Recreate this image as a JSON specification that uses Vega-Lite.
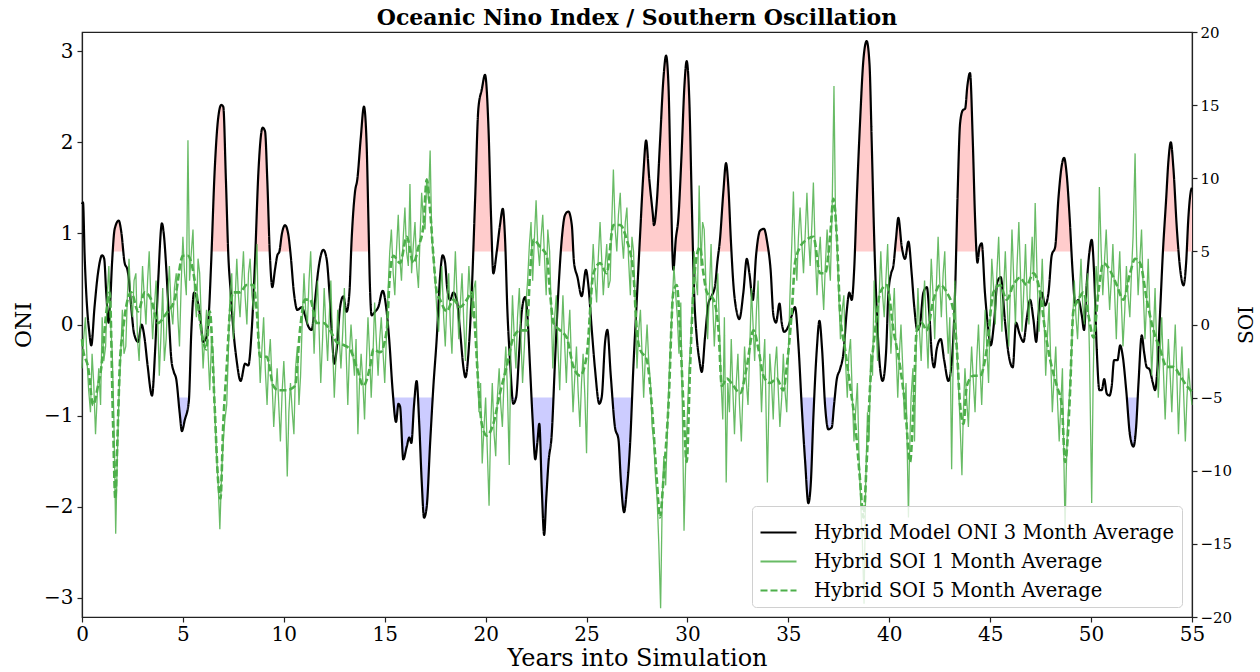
{
"$schema": "https://vega.github.io/schema/vega-lite/v6.json",
"width": 1110, "height": 585,
"autosize": {"type": "none"},
"padding": {"left": 82, "top": 32, "right": 68, "bottom": 55},
"background": "white",
"title": {"text": "Oceanic Nino Index / Southern Oscillation", "font": "DejaVu Serif", "fontSize": 22, "fontWeight": "bold", "color": "black", "offset": -5, "anchor": "middle"},
"config": {
 "view": {"stroke": "#222", "strokeWidth": 1.2},
 "axis": {"grid": false, "labelFont": "DejaVu Serif", "titleFont": "DejaVu Serif", "titleFontWeight": "normal", "labelColor": "black", "titleColor": "black", "tickColor": "#222", "domainColor": "#222", "tickSize": 5, "domainWidth": 1.2, "tickWidth": 1.2, "labelFlush": false},
 "legend": {"orient": "bottom-right", "offset": 10, "labelFont": "DejaVu Serif", "labelFontSize": 19.5, "labelColor": "black", "symbolType": "stroke", "symbolSize": 1296, "symbolStrokeWidth": 2.2, "labelOffset": 16, "padding": 7, "rowPadding": -9, "strokeColor": "#d0d0d0", "fillColor": "rgba(255,255,255,0.8)", "cornerRadius": 4, "labelLimit": 700}
},
"datasets": {
 "oni": [
{"t":0,"oni":1.32},{"t":0.05,"oni":1.34},{"t":0.13,"oni":0.76},{"t":0.28,"oni":0.1},{"t":0.35,"oni":-0.06},{"t":0.46,"oni":-0.23},{"t":0.62,"oni":0.19},{"t":0.79,"oni":0.56},{"t":1.0,"oni":0.76},{"t":1.1,"oni":0.72},{"t":1.2,"oni":0.35},{"t":1.32,"oni":0.02},{"t":1.38,"oni":0.17},{"t":1.49,"oni":0.68},{"t":1.62,"oni":1.05},{"t":1.82,"oni":1.14},{"t":1.95,"oni":1.01},{"t":2.11,"oni":0.68},{"t":2.25,"oni":0.6},{"t":2.31,"oni":0.52},{"t":2.44,"oni":0.19},{"t":2.58,"oni":-0.1},{"t":2.78,"oni":-0.19},{"t":2.95,"oni":0.0},{"t":3.1,"oni":-0.15},{"t":3.25,"oni":-0.45},{"t":3.47,"oni":-0.78},{"t":3.62,"oni":-0.3},{"t":3.78,"oni":0.5},{"t":3.96,"oni":1.11},{"t":4.05,"oni":1.0},{"t":4.18,"oni":0.6},{"t":4.3,"oni":0.1},{"t":4.43,"oni":-0.39},{"t":4.55,"oni":-0.52},{"t":4.67,"oni":-0.6},{"t":4.84,"oni":-0.97},{"t":4.95,"oni":-1.17},{"t":5.09,"oni":-1.05},{"t":5.29,"oni":-0.85},{"t":5.42,"oni":-0.06},{"t":5.55,"oni":0.35},{"t":5.71,"oni":0.27},{"t":5.85,"oni":0.1},{"t":6.0,"oni":-0.19},{"t":6.16,"oni":-0.14},{"t":6.28,"oni":0.1},{"t":6.4,"oni":0.68},{"t":6.57,"oni":1.67},{"t":6.74,"oni":2.25},{"t":6.9,"oni":2.41},{"t":7.0,"oni":2.39},{"t":7.13,"oni":1.59},{"t":7.25,"oni":0.76},{"t":7.37,"oni":0.35},{"t":7.5,"oni":-0.06},{"t":7.66,"oni":-0.39},{"t":7.86,"oni":-0.62},{"t":8.08,"oni":-0.43},{"t":8.24,"oni":-0.45},{"t":8.41,"oni":-0.06},{"t":8.57,"oni":0.68},{"t":8.74,"oni":1.67},{"t":8.95,"oni":2.16},{"t":9.07,"oni":2.12},{"t":9.18,"oni":1.59},{"t":9.31,"oni":0.76},{"t":9.43,"oni":0.41},{"t":9.56,"oni":0.6},{"t":9.68,"oni":0.76},{"t":9.78,"oni":0.8},{"t":9.9,"oni":0.99},{"t":10.06,"oni":1.09},{"t":10.22,"oni":0.99},{"t":10.34,"oni":0.76},{"t":10.5,"oni":0.35},{"t":10.67,"oni":0.16},{"t":10.89,"oni":0.19},{"t":11.05,"oni":0.1},{"t":11.21,"oni":-0.02},{"t":11.38,"oni":-0.06},{"t":11.55,"oni":0.27},{"t":11.71,"oni":0.6},{"t":11.96,"oni":0.82},{"t":12.12,"oni":0.72},{"t":12.26,"oni":0.35},{"t":12.37,"oni":-0.06},{"t":12.5,"oni":-0.43},{"t":12.62,"oni":-0.27},{"t":12.79,"oni":0.19},{"t":12.95,"oni":0.31},{"t":13.11,"oni":0.14},{"t":13.25,"oni":0.35},{"t":13.36,"oni":0.93},{"t":13.53,"oni":1.46},{"t":13.64,"oni":1.59},{"t":13.81,"oni":2.04},{"t":13.97,"oni":2.39},{"t":14.1,"oni":2.0},{"t":14.19,"oni":1.17},{"t":14.27,"oni":0.4},{"t":14.35,"oni":0.1},{"t":14.52,"oni":0.14},{"t":14.68,"oni":0.19},{"t":14.9,"oni":0.37},{"t":15.07,"oni":0.19},{"t":15.23,"oni":-0.19},{"t":15.39,"oni":-0.72},{"t":15.56,"oni":-1.07},{"t":15.68,"oni":-0.87},{"t":15.76,"oni":-0.9},{"t":15.92,"oni":-1.48},{"t":16.09,"oni":-1.34},{"t":16.22,"oni":-1.24},{"t":16.32,"oni":-1.3},{"t":16.45,"oni":-0.89},{"t":16.58,"oni":-0.62},{"t":16.71,"oni":-1.09},{"t":16.83,"oni":-1.71},{"t":16.95,"oni":-2.12},{"t":17.08,"oni":-2.0},{"t":17.25,"oni":-1.3},{"t":17.41,"oni":-0.68},{"t":17.58,"oni":-0.14},{"t":17.74,"oni":0.52},{"t":17.87,"oni":0.76},{"t":17.99,"oni":0.68},{"t":18.1,"oni":0.39},{"t":18.24,"oni":0.27},{"t":18.4,"oni":0.35},{"t":18.57,"oni":0.27},{"t":18.73,"oni":-0.06},{"t":18.9,"oni":-0.47},{"t":19.0,"oni":-0.58},{"t":19.15,"oni":-0.31},{"t":19.31,"oni":0.35},{"t":19.48,"oni":1.38},{"t":19.64,"oni":2.37},{"t":19.81,"oni":2.58},{"t":19.97,"oni":2.74},{"t":20.14,"oni":2.16},{"t":20.27,"oni":1.17},{"t":20.38,"oni":0.56},{"t":20.55,"oni":0.8},{"t":20.71,"oni":1.09},{"t":20.85,"oni":1.27},{"t":20.96,"oni":0.95},{"t":21.08,"oni":0.14},{"t":21.21,"oni":-0.4},{"t":21.37,"oni":-0.87},{"t":21.51,"oni":-0.8},{"t":21.67,"oni":-0.27},{"t":21.79,"oni":0.14},{"t":21.95,"oni":0.3},{"t":22.07,"oni":0.1},{"t":22.2,"oni":-0.47},{"t":22.33,"oni":-1.05},{"t":22.46,"oni":-1.48},{"t":22.56,"oni":-1.3},{"t":22.66,"oni":-1.09},{"t":22.78,"oni":-1.79},{"t":22.9,"oni":-2.31},{"t":23.0,"oni":-1.92},{"t":23.12,"oni":-1.5},{"t":23.27,"oni":-1.22},{"t":23.44,"oni":-0.39},{"t":23.6,"oni":0.35},{"t":23.77,"oni":0.93},{"t":23.93,"oni":1.2},{"t":24.1,"oni":1.24},{"t":24.27,"oni":1.09},{"t":24.38,"oni":0.68},{"t":24.55,"oni":0.52},{"t":24.76,"oni":0.31},{"t":24.97,"oni":0.6},{"t":25.09,"oni":0.43},{"t":25.26,"oni":-0.06},{"t":25.42,"oni":-0.49},{"t":25.63,"oni":-0.87},{"t":25.75,"oni":-0.8},{"t":25.92,"oni":-0.19},{"t":26.03,"oni":-0.06},{"t":26.2,"oni":-0.56},{"t":26.41,"oni":-1.13},{"t":26.58,"oni":-1.26},{"t":26.7,"oni":-1.71},{"t":26.86,"oni":-2.06},{"t":26.99,"oni":-1.83},{"t":27.16,"oni":-1.3},{"t":27.32,"oni":-0.47},{"t":27.49,"oni":0.27},{"t":27.65,"oni":0.97},{"t":27.82,"oni":1.67},{"t":27.95,"oni":2.02},{"t":28.11,"oni":1.59},{"t":28.28,"oni":1.22},{"t":28.34,"oni":1.09},{"t":28.48,"oni":1.34},{"t":28.64,"oni":2.0},{"t":28.81,"oni":2.7},{"t":28.94,"oni":2.95},{"t":29.06,"oni":2.62},{"t":29.17,"oni":1.59},{"t":29.3,"oni":0.6},{"t":29.42,"oni":0.93},{"t":29.55,"oni":1.17},{"t":29.71,"oni":1.88},{"t":29.85,"oni":2.62},{"t":29.96,"oni":2.89},{"t":30.1,"oni":2.41},{"t":30.21,"oni":1.38},{"t":30.33,"oni":0.35},{"t":30.46,"oni":-0.14},{"t":30.59,"oni":-0.39},{"t":30.71,"oni":-0.52},{"t":30.87,"oni":-0.14},{"t":31.04,"oni":0.23},{"t":31.2,"oni":0.31},{"t":31.37,"oni":0.43},{"t":31.48,"oni":0.68},{"t":31.61,"oni":0.93},{"t":31.78,"oni":1.46},{"t":31.91,"oni":1.77},{"t":32.03,"oni":1.5},{"t":32.15,"oni":0.93},{"t":32.28,"oni":0.43},{"t":32.44,"oni":0.14},{"t":32.57,"oni":0.06},{"t":32.77,"oni":0.35},{"t":32.94,"oni":0.72},{"t":33.07,"oni":0.56},{"t":33.24,"oni":0.27},{"t":33.4,"oni":0.76},{"t":33.6,"oni":1.03},{"t":33.79,"oni":1.05},{"t":33.96,"oni":0.89},{"t":34.12,"oni":0.6},{"t":34.26,"oni":0.1},{"t":34.39,"oni":0.02},{"t":34.56,"oni":0.23},{"t":34.67,"oni":0.02},{"t":34.79,"oni":-0.08},{"t":35.0,"oni":-0.02},{"t":35.17,"oni":0.1},{"t":35.33,"oni":0.19},{"t":35.5,"oni":-0.23},{"t":35.66,"oni":-0.89},{"t":35.83,"oni":-1.5},{"t":35.99,"oni":-1.96},{"t":36.11,"oni":-1.75},{"t":36.24,"oni":-1.01},{"t":36.41,"oni":-0.27},{"t":36.54,"oni":0.04},{"t":36.67,"oni":-0.27},{"t":36.82,"oni":-0.89},{"t":36.98,"oni":-1.15},{"t":37.15,"oni":-1.13},{"t":37.26,"oni":-0.89},{"t":37.4,"oni":-0.6},{"t":37.56,"oni":-0.49},{"t":37.73,"oni":-0.31},{"t":37.89,"oni":0.14},{"t":38.02,"oni":0.35},{"t":38.14,"oni":0.27},{"t":38.26,"oni":0.6},{"t":38.39,"oni":1.38},{"t":38.55,"oni":2.21},{"t":38.72,"oni":2.91},{"t":38.88,"oni":3.11},{"t":39.02,"oni":2.86},{"t":39.13,"oni":2.0},{"t":39.25,"oni":0.97},{"t":39.38,"oni":0.14},{"t":39.51,"oni":-0.39},{"t":39.67,"oni":-0.62},{"t":39.84,"oni":-0.31},{"t":39.96,"oni":0.35},{"t":40.09,"oni":0.56},{"t":40.2,"oni":0.64},{"t":40.33,"oni":0.93},{"t":40.45,"oni":1.17},{"t":40.62,"oni":0.85},{"t":40.78,"oni":0.72},{"t":40.95,"oni":0.91},{"t":41.11,"oni":0.56},{"t":41.24,"oni":0.19},{"t":41.39,"oni":-0.06},{"t":41.52,"oni":0.0},{"t":41.69,"oni":0.35},{"t":41.86,"oni":0.41},{"t":41.99,"oni":0.1},{"t":42.1,"oni":-0.31},{"t":42.22,"oni":-0.47},{"t":42.35,"oni":-0.27},{"t":42.55,"oni":-0.16},{"t":42.72,"oni":-0.39},{"t":42.93,"oni":-0.62},{"t":43.09,"oni":-0.43},{"t":43.26,"oni":0.35},{"t":43.38,"oni":1.38},{"t":43.51,"oni":2.21},{"t":43.64,"oni":2.35},{"t":43.76,"oni":2.37},{"t":43.87,"oni":2.62},{"t":44.0,"oni":2.76},{"t":44.14,"oni":2.0},{"t":44.25,"oni":1.17},{"t":44.37,"oni":0.68},{"t":44.47,"oni":0.85},{"t":44.58,"oni":0.89},{"t":44.74,"oni":0.35},{"t":44.91,"oni":-0.06},{"t":45.03,"oni":-0.23},{"t":45.19,"oni":0.02},{"t":45.36,"oni":0.47},{"t":45.52,"oni":0.52},{"t":45.74,"oni":0.02},{"t":45.9,"oni":-0.31},{"t":46.12,"oni":-0.47},{"t":46.28,"oni":0.02},{"t":46.45,"oni":-0.1},{"t":46.65,"oni":-0.19},{"t":46.81,"oni":0.06},{"t":46.98,"oni":0.27},{"t":47.14,"oni":0.06},{"t":47.28,"oni":-0.19},{"t":47.39,"oni":0.1},{"t":47.56,"oni":0.35},{"t":47.72,"oni":0.21},{"t":47.89,"oni":0.35},{"t":48.05,"oni":0.76},{"t":48.22,"oni":0.85},{"t":48.38,"oni":1.38},{"t":48.55,"oni":1.75},{"t":48.66,"oni":1.83},{"t":48.79,"oni":1.65},{"t":48.93,"oni":1.2},{"t":49.09,"oni":0.56},{"t":49.21,"oni":0.23},{"t":49.37,"oni":0.27},{"t":49.54,"oni":0.1},{"t":49.65,"oni":-0.06},{"t":49.78,"oni":0.43},{"t":49.92,"oni":0.8},{"t":50.03,"oni":0.93},{"t":50.15,"oni":0.56},{"t":50.28,"oni":-0.27},{"t":50.41,"oni":-0.72},{"t":50.53,"oni":-0.72},{"t":50.65,"oni":-0.6},{"t":50.78,"oni":-0.76},{"t":50.91,"oni":-0.78},{"t":51.02,"oni":-0.68},{"t":51.14,"oni":-0.39},{"t":51.31,"oni":-0.39},{"t":51.44,"oni":-0.23},{"t":51.57,"oni":-0.35},{"t":51.74,"oni":-0.72},{"t":51.93,"oni":-1.22},{"t":52.1,"oni":-1.34},{"t":52.23,"oni":-1.13},{"t":52.35,"oni":-0.64},{"t":52.51,"oni":-0.12},{"t":52.63,"oni":-0.31},{"t":52.76,"oni":-0.47},{"t":52.89,"oni":-0.49},{"t":53.06,"oni":-0.64},{"t":53.17,"oni":-0.72},{"t":53.29,"oni":-0.47},{"t":53.42,"oni":0.14},{"t":53.55,"oni":0.76},{"t":53.72,"oni":1.38},{"t":53.83,"oni":1.79},{"t":53.95,"oni":2.0},{"t":54.08,"oni":1.71},{"t":54.25,"oni":1.05},{"t":54.44,"oni":0.56},{"t":54.58,"oni":0.43},{"t":54.71,"oni":0.68},{"t":54.82,"oni":1.17},{"t":54.94,"oni":1.46},{"t":55.0,"oni":1.5}
 ],
 "warm": [
{"t":1.53,"oni":0.8,"ep":1},{"t":1.62,"oni":1.05,"ep":1},{"t":1.82,"oni":1.14,"ep":1},{"t":1.95,"oni":1.01,"ep":1},{"t":2.05,"oni":0.8,"ep":1},
{"t":6.42,"oni":0.8,"ep":2},{"t":6.57,"oni":1.67,"ep":2},{"t":6.74,"oni":2.25,"ep":2},{"t":6.9,"oni":2.41,"ep":2},{"t":7.0,"oni":2.39,"ep":2},{"t":7.13,"oni":1.59,"ep":2},{"t":7.24,"oni":0.8,"ep":2},
{"t":8.59,"oni":0.8,"ep":3},{"t":8.74,"oni":1.67,"ep":3},{"t":8.95,"oni":2.16,"ep":3},{"t":9.07,"oni":2.12,"ep":3},{"t":9.18,"oni":1.59,"ep":3},{"t":9.3,"oni":0.8,"ep":3},
{"t":9.78,"oni":0.8,"ep":4},{"t":9.9,"oni":0.99,"ep":4},{"t":10.06,"oni":1.09,"ep":4},{"t":10.22,"oni":0.99,"ep":4},{"t":10.32,"oni":0.8,"ep":4},
{"t":13.34,"oni":0.8,"ep":6},{"t":13.36,"oni":0.93,"ep":6},{"t":13.53,"oni":1.46,"ep":6},{"t":13.64,"oni":1.59,"ep":6},{"t":13.81,"oni":2.04,"ep":6},{"t":13.97,"oni":2.39,"ep":6},{"t":14.1,"oni":2.0,"ep":6},{"t":14.19,"oni":1.17,"ep":6},{"t":14.23,"oni":0.8,"ep":6},
{"t":19.38,"oni":0.8,"ep":7},{"t":19.48,"oni":1.38,"ep":7},{"t":19.64,"oni":2.37,"ep":7},{"t":19.81,"oni":2.58,"ep":7},{"t":19.97,"oni":2.74,"ep":7},{"t":20.14,"oni":2.16,"ep":7},{"t":20.27,"oni":1.17,"ep":7},{"t":20.34,"oni":0.8,"ep":7},
{"t":20.55,"oni":0.8,"ep":8},{"t":20.71,"oni":1.09,"ep":8},{"t":20.85,"oni":1.27,"ep":8},{"t":20.96,"oni":0.95,"ep":8},{"t":20.98,"oni":0.8,"ep":8},
{"t":23.73,"oni":0.8,"ep":9},{"t":23.77,"oni":0.93,"ep":9},{"t":23.93,"oni":1.2,"ep":9},{"t":24.1,"oni":1.24,"ep":9},{"t":24.27,"oni":1.09,"ep":9},{"t":24.35,"oni":0.8,"ep":9},
{"t":27.61,"oni":0.8,"ep":10},{"t":27.65,"oni":0.97,"ep":10},{"t":27.82,"oni":1.67,"ep":10},{"t":27.95,"oni":2.02,"ep":10},{"t":28.11,"oni":1.59,"ep":10},{"t":28.28,"oni":1.22,"ep":10},{"t":28.34,"oni":1.09,"ep":10},{"t":28.48,"oni":1.34,"ep":10},{"t":28.64,"oni":2.0,"ep":10},{"t":28.81,"oni":2.7,"ep":10},{"t":28.94,"oni":2.95,"ep":10},{"t":29.06,"oni":2.62,"ep":10},{"t":29.17,"oni":1.59,"ep":10},{"t":29.27,"oni":0.8,"ep":10},
{"t":29.37,"oni":0.8,"ep":11},{"t":29.42,"oni":0.93,"ep":11},{"t":29.55,"oni":1.17,"ep":11},{"t":29.71,"oni":1.88,"ep":11},{"t":29.85,"oni":2.62,"ep":11},{"t":29.96,"oni":2.89,"ep":11},{"t":30.1,"oni":2.41,"ep":11},{"t":30.21,"oni":1.38,"ep":11},{"t":30.28,"oni":0.8,"ep":11},
{"t":31.54,"oni":0.8,"ep":12},{"t":31.61,"oni":0.93,"ep":12},{"t":31.78,"oni":1.46,"ep":12},{"t":31.91,"oni":1.77,"ep":12},{"t":32.03,"oni":1.5,"ep":12},{"t":32.15,"oni":0.93,"ep":12},{"t":32.18,"oni":0.8,"ep":12},
{"t":33.43,"oni":0.8,"ep":13},{"t":33.6,"oni":1.03,"ep":13},{"t":33.79,"oni":1.05,"ep":13},{"t":33.96,"oni":0.89,"ep":13},{"t":34.01,"oni":0.8,"ep":13},
{"t":38.29,"oni":0.8,"ep":14},{"t":38.39,"oni":1.38,"ep":14},{"t":38.55,"oni":2.21,"ep":14},{"t":38.72,"oni":2.91,"ep":14},{"t":38.88,"oni":3.11,"ep":14},{"t":39.02,"oni":2.86,"ep":14},{"t":39.13,"oni":2.0,"ep":14},{"t":39.25,"oni":0.97,"ep":14},{"t":39.28,"oni":0.8,"ep":14},
{"t":40.27,"oni":0.8,"ep":15},{"t":40.33,"oni":0.93,"ep":15},{"t":40.45,"oni":1.17,"ep":15},{"t":40.62,"oni":0.85,"ep":15},{"t":40.68,"oni":0.8,"ep":15},
{"t":40.85,"oni":0.8,"ep":16},{"t":40.95,"oni":0.91,"ep":16},{"t":41.01,"oni":0.8,"ep":16},
{"t":43.31,"oni":0.8,"ep":17},{"t":43.38,"oni":1.38,"ep":17},{"t":43.51,"oni":2.21,"ep":17},{"t":43.64,"oni":2.35,"ep":17},{"t":43.76,"oni":2.37,"ep":17},{"t":43.87,"oni":2.62,"ep":17},{"t":44.0,"oni":2.76,"ep":17},{"t":44.14,"oni":2.0,"ep":17},{"t":44.25,"oni":1.17,"ep":17},{"t":44.34,"oni":0.8,"ep":17},
{"t":44.44,"oni":0.8,"ep":18},{"t":44.47,"oni":0.85,"ep":18},{"t":44.58,"oni":0.89,"ep":18},{"t":44.61,"oni":0.8,"ep":18},
{"t":48.13,"oni":0.8,"ep":19},{"t":48.22,"oni":0.85,"ep":19},{"t":48.38,"oni":1.38,"ep":19},{"t":48.55,"oni":1.75,"ep":19},{"t":48.66,"oni":1.83,"ep":19},{"t":48.79,"oni":1.65,"ep":19},{"t":48.93,"oni":1.2,"ep":19},{"t":49.03,"oni":0.8,"ep":19},
{"t":49.92,"oni":0.8,"ep":20},{"t":50.03,"oni":0.93,"ep":20},{"t":50.07,"oni":0.8,"ep":20},
{"t":53.56,"oni":0.8,"ep":21},{"t":53.72,"oni":1.38,"ep":21},{"t":53.83,"oni":1.79,"ep":21},{"t":53.95,"oni":2.0,"ep":21},{"t":54.08,"oni":1.71,"ep":21},{"t":54.25,"oni":1.05,"ep":21},{"t":54.35,"oni":0.8,"ep":21},
{"t":54.74,"oni":0.8,"ep":22},{"t":54.82,"oni":1.17,"ep":22},{"t":54.94,"oni":1.46,"ep":22},{"t":55.0,"oni":1.5,"ep":22}
 ],
 "cold": [
{"t":4.76,"oni":-0.8,"ep":1},{"t":4.84,"oni":-0.97,"ep":1},{"t":4.95,"oni":-1.17,"ep":1},{"t":5.09,"oni":-1.05,"ep":1},{"t":5.29,"oni":-0.85,"ep":1},{"t":5.3,"oni":-0.8,"ep":1},
{"t":15.43,"oni":-0.8,"ep":2},{"t":15.56,"oni":-1.07,"ep":2},{"t":15.68,"oni":-0.87,"ep":2},{"t":15.76,"oni":-0.9,"ep":2},{"t":15.92,"oni":-1.48,"ep":2},{"t":16.09,"oni":-1.34,"ep":2},{"t":16.22,"oni":-1.24,"ep":2},{"t":16.32,"oni":-1.3,"ep":2},{"t":16.45,"oni":-0.89,"ep":2},{"t":16.49,"oni":-0.8,"ep":2},
{"t":16.63,"oni":-0.8,"ep":3},{"t":16.71,"oni":-1.09,"ep":3},{"t":16.83,"oni":-1.71,"ep":3},{"t":16.95,"oni":-2.12,"ep":3},{"t":17.08,"oni":-2.0,"ep":3},{"t":17.25,"oni":-1.3,"ep":3},{"t":17.38,"oni":-0.8,"ep":3},
{"t":21.35,"oni":-0.8,"ep":4},{"t":21.37,"oni":-0.87,"ep":4},{"t":21.51,"oni":-0.8,"ep":4},
{"t":22.27,"oni":-0.8,"ep":5},{"t":22.33,"oni":-1.05,"ep":5},{"t":22.46,"oni":-1.48,"ep":5},{"t":22.56,"oni":-1.3,"ep":5},{"t":22.66,"oni":-1.09,"ep":5},{"t":22.78,"oni":-1.79,"ep":5},{"t":22.9,"oni":-2.31,"ep":5},{"t":23.0,"oni":-1.92,"ep":5},{"t":23.12,"oni":-1.5,"ep":5},{"t":23.27,"oni":-1.22,"ep":5},{"t":23.36,"oni":-0.8,"ep":5},
{"t":25.59,"oni":-0.8,"ep":6},{"t":25.63,"oni":-0.87,"ep":6},{"t":25.75,"oni":-0.8,"ep":6},
{"t":26.29,"oni":-0.8,"ep":7},{"t":26.41,"oni":-1.13,"ep":7},{"t":26.58,"oni":-1.26,"ep":7},{"t":26.7,"oni":-1.71,"ep":7},{"t":26.86,"oni":-2.06,"ep":7},{"t":26.99,"oni":-1.83,"ep":7},{"t":27.16,"oni":-1.3,"ep":7},{"t":27.26,"oni":-0.8,"ep":7},
{"t":35.64,"oni":-0.8,"ep":8},{"t":35.66,"oni":-0.89,"ep":8},{"t":35.83,"oni":-1.5,"ep":8},{"t":35.99,"oni":-1.96,"ep":8},{"t":36.11,"oni":-1.75,"ep":8},{"t":36.24,"oni":-1.01,"ep":8},{"t":36.29,"oni":-0.8,"ep":8},
{"t":36.8,"oni":-0.8,"ep":9},{"t":36.82,"oni":-0.89,"ep":9},{"t":36.98,"oni":-1.15,"ep":9},{"t":37.15,"oni":-1.13,"ep":9},{"t":37.26,"oni":-0.89,"ep":9},{"t":37.3,"oni":-0.8,"ep":9},
{"t":51.77,"oni":-0.8,"ep":10},{"t":51.93,"oni":-1.22,"ep":10},{"t":52.1,"oni":-1.34,"ep":10},{"t":52.23,"oni":-1.13,"ep":10},{"t":52.31,"oni":-0.8,"ep":10}
 ],
 "soi5": [
{"t":0,"soi":-1.0},{"t":0.05,"soi":-1.7},{"t":0.3,"soi":-2.9},{"t":0.55,"soi":-5.5},{"t":0.79,"soi":-4.2},{"t":0.96,"soi":-2.9},{"t":1.21,"soi":0.9},{"t":1.37,"soi":2.2},{"t":1.54,"soi":-6.8},{"t":1.65,"soi":-11.9},{"t":1.75,"soi":-8.1},{"t":1.87,"soi":-2.9},{"t":2.03,"soi":-0.4},{"t":2.44,"soi":2.2},{"t":2.78,"soi":0.9},{"t":3.11,"soi":2.2},{"t":3.43,"soi":1.7},{"t":3.77,"soi":0.1},{"t":4.1,"soi":0.6},{"t":4.26,"soi":0.9},{"t":4.59,"soi":1.7},{"t":5.0,"soi":4.7},{"t":5.25,"soi":4.7},{"t":5.42,"soi":4.2},{"t":5.67,"soi":2.2},{"t":5.91,"soi":-0.4},{"t":6.16,"soi":-1.7},{"t":6.33,"soi":0.9},{"t":6.57,"soi":-5.5},{"t":6.74,"soi":-10.6},{"t":6.86,"soi":-11.9},{"t":7.0,"soi":-6.8},{"t":7.17,"soi":-2.9},{"t":7.33,"soi":0.9},{"t":7.5,"soi":2.2},{"t":7.83,"soi":2.2},{"t":8.16,"soi":2.7},{"t":8.49,"soi":2.7},{"t":8.66,"soi":0.9},{"t":8.82,"soi":-2.2},{"t":9.15,"soi":-2.2},{"t":9.48,"soi":-4.2},{"t":9.73,"soi":-4.5},{"t":10.14,"soi":-4.5},{"t":10.56,"soi":-4.2},{"t":10.8,"soi":-0.4},{"t":11.05,"soi":1.7},{"t":11.3,"soi":1.7},{"t":11.63,"soi":0.1},{"t":11.96,"soi":0.1},{"t":12.29,"soi":-0.4},{"t":12.62,"soi":-1.2},{"t":12.95,"soi":-1.4},{"t":13.28,"soi":-1.7},{"t":13.61,"soi":-2.9},{"t":13.94,"soi":-4.2},{"t":14.27,"soi":-2.9},{"t":14.44,"soi":-1.7},{"t":14.77,"soi":-1.9},{"t":15.1,"soi":-0.4},{"t":15.26,"soi":3.5},{"t":15.43,"soi":4.7},{"t":15.76,"soi":4.2},{"t":16.09,"soi":6.0},{"t":16.42,"soi":4.2},{"t":16.67,"soi":5.3},{"t":16.92,"soi":6.8},{"t":17.08,"soi":9.9},{"t":17.25,"soi":7.8},{"t":17.41,"soi":4.7},{"t":17.58,"soi":2.2},{"t":17.74,"soi":1.7},{"t":18.07,"soi":0.9},{"t":18.4,"soi":1.7},{"t":18.73,"soi":1.2},{"t":19.07,"soi":1.7},{"t":19.31,"soi":2.2},{"t":19.48,"soi":-0.4},{"t":19.64,"soi":-4.2},{"t":19.81,"soi":-6.8},{"t":20.05,"soi":-7.6},{"t":20.38,"soi":-6.8},{"t":20.71,"soi":-4.7},{"t":21.04,"soi":-2.9},{"t":21.37,"soi":-0.9},{"t":21.7,"soi":-0.4},{"t":22.04,"soi":-0.4},{"t":22.2,"soi":3.5},{"t":22.37,"soi":5.8},{"t":22.7,"soi":5.3},{"t":23.03,"soi":4.7},{"t":23.19,"soi":2.2},{"t":23.36,"soi":0.1},{"t":23.69,"soi":-0.4},{"t":24.02,"soi":-0.9},{"t":24.35,"soi":-2.9},{"t":24.68,"soi":-3.5},{"t":25.0,"soi":-2.2},{"t":25.34,"soi":3.5},{"t":25.67,"soi":4.2},{"t":26.0,"soi":3.5},{"t":26.33,"soi":6.8},{"t":26.66,"soi":6.8},{"t":26.99,"soi":5.8},{"t":27.32,"soi":3.5},{"t":27.49,"soi":-0.4},{"t":27.65,"soi":-1.7},{"t":27.98,"soi":-2.4},{"t":28.23,"soi":-5.5},{"t":28.48,"soi":-10.6},{"t":28.64,"soi":-13.2},{"t":28.81,"soi":-10.6},{"t":29.06,"soi":-5.5},{"t":29.3,"soi":2.2},{"t":29.47,"soi":2.7},{"t":29.63,"soi":-0.4},{"t":29.8,"soi":-5.5},{"t":29.96,"soi":-9.4},{"t":30.13,"soi":-2.9},{"t":30.29,"soi":2.2},{"t":30.46,"soi":4.7},{"t":30.62,"soi":5.3},{"t":30.79,"soi":3.5},{"t":30.96,"soi":2.2},{"t":31.29,"soi":1.7},{"t":31.54,"soi":-0.4},{"t":31.7,"soi":-4.2},{"t":31.95,"soi":-3.7},{"t":32.28,"soi":-4.2},{"t":32.61,"soi":-4.7},{"t":32.94,"soi":-2.9},{"t":33.27,"soi":-0.4},{"t":33.52,"soi":-1.7},{"t":33.76,"soi":-3.5},{"t":34.09,"soi":-4.0},{"t":34.42,"soi":-3.7},{"t":34.75,"soi":-4.5},{"t":34.92,"soi":-2.9},{"t":35.17,"soi":0.9},{"t":35.33,"soi":4.2},{"t":35.58,"soi":5.3},{"t":35.91,"soi":5.8},{"t":36.24,"soi":6.0},{"t":36.57,"soi":3.5},{"t":36.82,"soi":3.5},{"t":37.07,"soi":6.0},{"t":37.23,"soi":8.6},{"t":37.4,"soi":6.0},{"t":37.56,"soi":0.9},{"t":37.81,"soi":-1.7},{"t":38.06,"soi":-4.2},{"t":38.31,"soi":-6.8},{"t":38.55,"soi":-10.6},{"t":38.72,"soi":-13.2},{"t":38.88,"soi":-9.4},{"t":39.05,"soi":-4.2},{"t":39.3,"soi":-0.4},{"t":39.55,"soi":2.2},{"t":39.88,"soi":2.7},{"t":40.21,"soi":-0.4},{"t":40.54,"soi":-2.9},{"t":40.78,"soi":-5.5},{"t":41.03,"soi":-9.4},{"t":41.2,"soi":-5.5},{"t":41.36,"soi":-0.4},{"t":41.61,"soi":0.1},{"t":41.86,"soi":-0.4},{"t":42.19,"soi":1.7},{"t":42.52,"soi":2.7},{"t":42.85,"soi":2.2},{"t":43.18,"soi":0.9},{"t":43.35,"soi":-1.7},{"t":43.51,"soi":-5.5},{"t":43.68,"soi":-6.8},{"t":43.84,"soi":-4.2},{"t":44.17,"soi":-3.5},{"t":44.5,"soi":-3.5},{"t":44.83,"soi":-1.7},{"t":45.16,"soi":2.2},{"t":45.49,"soi":2.7},{"t":45.82,"soi":1.7},{"t":46.15,"soi":2.7},{"t":46.48,"soi":3.2},{"t":46.81,"soi":2.7},{"t":47.14,"soi":3.5},{"t":47.47,"soi":2.2},{"t":47.72,"soi":-0.4},{"t":47.97,"soi":-2.4},{"t":48.3,"soi":-4.2},{"t":48.55,"soi":-5.5},{"t":48.71,"soi":-9.4},{"t":48.88,"soi":-6.8},{"t":48.96,"soi":-4.5},{"t":49.12,"soi":0.9},{"t":49.37,"soi":1.7},{"t":49.62,"soi":2.2},{"t":49.87,"soi":0.6},{"t":50.12,"soi":-0.9},{"t":50.36,"soi":2.2},{"t":50.61,"soi":4.2},{"t":50.94,"soi":3.7},{"t":51.27,"soi":2.7},{"t":51.6,"soi":1.7},{"t":51.93,"soi":3.5},{"t":52.18,"soi":4.5},{"t":52.43,"soi":4.2},{"t":52.76,"soi":1.7},{"t":53.09,"soi":-0.4},{"t":53.42,"soi":-1.7},{"t":53.75,"soi":-2.9},{"t":54.08,"soi":-2.9},{"t":54.41,"soi":-3.5},{"t":54.74,"soi":-4.2},{"t":54.94,"soi":-4.5},{"t":55.0,"soi":-4.6}
 ],
 "soi1": [
{"t":0,"soi":-3.0},{"t":0.08,"soi":-1.0},{"t":0.17,"soi":0.5},{"t":0.25,"soi":-2.5},{"t":0.33,"soi":-4.5},{"t":0.42,"soi":-6.0},{"t":0.5,"soi":-2.0},{"t":0.58,"soi":-4.0},{"t":0.67,"soi":-7.5},{"t":0.75,"soi":-5.0},{"t":0.83,"soi":-3.0},{"t":0.92,"soi":-5.5},{"t":1.0,"soi":0.5},{"t":1.08,"soi":-2.5},{"t":1.17,"soi":-1.5},{"t":1.25,"soi":2.0},{"t":1.33,"soi":4.0},{"t":1.42,"soi":0.0},{"t":1.5,"soi":-2.0},{"t":1.58,"soi":-6.5},{"t":1.67,"soi":-14.3},{"t":1.75,"soi":-9.0},{"t":1.83,"soi":-5.0},{"t":1.92,"soi":-2.0},{"t":2.0,"soi":1.0},{"t":2.08,"soi":-2.0},{"t":2.17,"soi":-1.5},{"t":2.25,"soi":2.0},{"t":2.33,"soi":4.5},{"t":2.42,"soi":1.5},{"t":2.5,"soi":0.5},{"t":2.58,"soi":3.0},{"t":2.67,"soi":3.5},{"t":2.75,"soi":-1.0},{"t":2.83,"soi":-2.5},{"t":2.92,"soi":1.0},{"t":3.0,"soi":4.0},{"t":3.08,"soi":2.0},{"t":3.17,"soi":0.0},{"t":3.25,"soi":3.0},{"t":3.33,"soi":5.0},{"t":3.42,"soi":1.5},{"t":3.5,"soi":-1.0},{"t":3.58,"soi":1.0},{"t":3.67,"soi":3.0},{"t":3.75,"soi":0.5},{"t":3.83,"soi":-3.5},{"t":3.92,"soi":-0.5},{"t":4.0,"soi":2.5},{"t":4.08,"soi":-2.5},{"t":4.17,"soi":-1.0},{"t":4.25,"soi":2.0},{"t":4.33,"soi":4.0},{"t":4.42,"soi":1.0},{"t":4.5,"soi":0.0},{"t":4.58,"soi":2.5},{"t":4.67,"soi":3.5},{"t":4.75,"soi":0.5},{"t":4.83,"soi":-1.5},{"t":4.92,"soi":3.0},{"t":5.0,"soi":6.0},{"t":5.08,"soi":3.5},{"t":5.17,"soi":2.0},{"t":5.25,"soi":12.6},{"t":5.33,"soi":3.0},{"t":5.42,"soi":5.0},{"t":5.5,"soi":6.5},{"t":5.58,"soi":2.0},{"t":5.67,"soi":0.5},{"t":5.75,"soi":4.5},{"t":5.83,"soi":3.5},{"t":5.92,"soi":0.0},{"t":6.0,"soi":-3.0},{"t":6.08,"soi":-1.0},{"t":6.17,"soi":1.0},{"t":6.25,"soi":-2.0},{"t":6.33,"soi":-4.5},{"t":6.42,"soi":-1.0},{"t":6.5,"soi":-2.0},{"t":6.58,"soi":-6.0},{"t":6.67,"soi":-9.0},{"t":6.75,"soi":-11.0},{"t":6.83,"soi":-14.0},{"t":6.92,"soi":-10.0},{"t":7.0,"soi":-8.0},{"t":7.08,"soi":-6.5},{"t":7.17,"soi":-5.5},{"t":7.25,"soi":-2.0},{"t":7.33,"soi":2.0},{"t":7.42,"soi":3.5},{"t":7.5,"soi":-1.0},{"t":7.58,"soi":1.5},{"t":7.67,"soi":4.5},{"t":7.75,"soi":2.0},{"t":7.83,"soi":0.5},{"t":7.92,"soi":3.0},{"t":8.0,"soi":5.0},{"t":8.08,"soi":2.0},{"t":8.17,"soi":0.0},{"t":8.25,"soi":3.5},{"t":8.33,"soi":4.5},{"t":8.42,"soi":2.0},{"t":8.5,"soi":1.0},{"t":8.58,"soi":3.0},{"t":8.67,"soi":5.5},{"t":8.75,"soi":-1.0},{"t":8.83,"soi":-4.0},{"t":8.92,"soi":-1.5},{"t":9.0,"soi":0.5},{"t":9.08,"soi":-3.0},{"t":9.17,"soi":-5.5},{"t":9.25,"soi":-2.5},{"t":9.33,"soi":-1.0},{"t":9.42,"soi":-4.0},{"t":9.5,"soi":-7.0},{"t":9.58,"soi":-5.0},{"t":9.67,"soi":-3.0},{"t":9.75,"soi":-5.5},{"t":9.83,"soi":-8.0},{"t":9.92,"soi":-4.5},{"t":10.0,"soi":-2.5},{"t":10.08,"soi":-5.0},{"t":10.17,"soi":-10.4},{"t":10.25,"soi":-6.0},{"t":10.33,"soi":-4.0},{"t":10.42,"soi":-6.0},{"t":10.5,"soi":-7.5},{"t":10.58,"soi":-3.0},{"t":10.67,"soi":-1.5},{"t":10.75,"soi":-5.5},{"t":10.83,"soi":-3.5},{"t":10.92,"soi":0.5},{"t":11.0,"soi":3.5},{"t":11.08,"soi":1.0},{"t":11.17,"soi":0.0},{"t":11.25,"soi":3.0},{"t":11.33,"soi":5.0},{"t":11.42,"soi":1.5},{"t":11.5,"soi":-2.0},{"t":11.58,"soi":1.0},{"t":11.67,"soi":3.0},{"t":11.75,"soi":-0.5},{"t":11.83,"soi":-4.0},{"t":11.92,"soi":-1.0},{"t":12.0,"soi":2.5},{"t":12.08,"soi":0.0},{"t":12.17,"soi":-2.5},{"t":12.25,"soi":0.5},{"t":12.33,"soi":3.0},{"t":12.42,"soi":-1.5},{"t":12.5,"soi":-5.0},{"t":12.58,"soi":-2.5},{"t":12.67,"soi":1.0},{"t":12.75,"soi":-1.0},{"t":12.83,"soi":-3.0},{"t":12.92,"soi":-0.5},{"t":13.0,"soi":2.5},{"t":13.08,"soi":-1.5},{"t":13.17,"soi":-5.5},{"t":13.25,"soi":-2.0},{"t":13.33,"soi":0.0},{"t":13.42,"soi":-2.0},{"t":13.5,"soi":-3.5},{"t":13.58,"soi":-1.0},{"t":13.67,"soi":-7.5},{"t":13.75,"soi":-4.0},{"t":13.83,"soi":-2.0},{"t":13.92,"soi":-4.0},{"t":14.0,"soi":-6.5},{"t":14.08,"soi":-3.0},{"t":14.17,"soi":0.5},{"t":14.25,"soi":-2.0},{"t":14.33,"soi":-5.0},{"t":14.42,"soi":-2.0},{"t":14.5,"soi":1.5},{"t":14.58,"soi":-1.0},{"t":14.67,"soi":-3.5},{"t":14.75,"soi":-1.0},{"t":14.83,"soi":0.5},{"t":14.92,"soi":-2.0},{"t":15.0,"soi":-4.0},{"t":15.08,"soi":-1.0},{"t":15.17,"soi":2.5},{"t":15.25,"soi":5.0},{"t":15.33,"soi":6.5},{"t":15.42,"soi":3.5},{"t":15.5,"soi":2.0},{"t":15.58,"soi":5.0},{"t":15.67,"soi":7.5},{"t":15.75,"soi":4.5},{"t":15.83,"soi":3.0},{"t":15.92,"soi":6.0},{"t":16.0,"soi":8.0},{"t":16.08,"soi":5.0},{"t":16.17,"soi":4.0},{"t":16.25,"soi":9.6},{"t":16.33,"soi":3.5},{"t":16.42,"soi":5.5},{"t":16.5,"soi":7.0},{"t":16.58,"soi":4.0},{"t":16.67,"soi":2.5},{"t":16.75,"soi":6.0},{"t":16.83,"soi":9.0},{"t":16.92,"soi":7.0},{"t":17.0,"soi":6.5},{"t":17.08,"soi":10.0},{"t":17.17,"soi":8.5},{"t":17.25,"soi":11.9},{"t":17.33,"soi":6.0},{"t":17.42,"soi":4.5},{"t":17.5,"soi":3.0},{"t":17.58,"soi":1.0},{"t":17.67,"soi":-0.5},{"t":17.75,"soi":2.0},{"t":17.83,"soi":4.0},{"t":17.92,"soi":0.5},{"t":18.0,"soi":-1.5},{"t":18.08,"soi":1.5},{"t":18.17,"soi":3.5},{"t":18.25,"soi":0.0},{"t":18.33,"soi":-2.0},{"t":18.42,"soi":2.0},{"t":18.5,"soi":5.0},{"t":18.58,"soi":2.0},{"t":18.67,"soi":-1.0},{"t":18.75,"soi":1.5},{"t":18.83,"soi":3.5},{"t":18.92,"soi":0.0},{"t":19.0,"soi":-2.5},{"t":19.08,"soi":1.0},{"t":19.17,"soi":4.0},{"t":19.25,"soi":2.0},{"t":19.33,"soi":0.5},{"t":19.42,"soi":2.5},{"t":19.5,"soi":3.0},{"t":19.58,"soi":-2.0},{"t":19.67,"soi":-6.0},{"t":19.75,"soi":-4.0},{"t":19.83,"soi":-9.5},{"t":19.92,"soi":-7.0},{"t":20.0,"soi":-5.0},{"t":20.08,"soi":-8.5},{"t":20.17,"soi":-12.4},{"t":20.25,"soi":-7.0},{"t":20.33,"soi":-4.0},{"t":20.42,"soi":-7.5},{"t":20.5,"soi":-9.0},{"t":20.58,"soi":-5.0},{"t":20.67,"soi":-3.0},{"t":20.75,"soi":-5.5},{"t":20.83,"soi":-7.0},{"t":20.92,"soi":-3.5},{"t":21.0,"soi":-1.5},{"t":21.08,"soi":-4.5},{"t":21.17,"soi":-9.6},{"t":21.25,"soi":-2.0},{"t":21.33,"soi":2.0},{"t":21.42,"soi":-1.0},{"t":21.5,"soi":-3.0},{"t":21.58,"soi":0.5},{"t":21.67,"soi":2.5},{"t":21.75,"soi":-1.0},{"t":21.83,"soi":-4.0},{"t":21.92,"soi":-1.5},{"t":22.0,"soi":1.5},{"t":22.08,"soi":3.0},{"t":22.17,"soi":5.5},{"t":22.25,"soi":7.0},{"t":22.33,"soi":3.0},{"t":22.42,"soi":6.0},{"t":22.5,"soi":8.5},{"t":22.58,"soi":5.5},{"t":22.67,"soi":4.0},{"t":22.75,"soi":6.0},{"t":22.83,"soi":7.5},{"t":22.92,"soi":4.5},{"t":23.0,"soi":2.0},{"t":23.08,"soi":6.5},{"t":23.17,"soi":5.0},{"t":23.25,"soi":1.0},{"t":23.33,"soi":-3.0},{"t":23.42,"soi":0.5},{"t":23.5,"soi":2.0},{"t":23.58,"soi":-1.5},{"t":23.67,"soi":-4.5},{"t":23.75,"soi":-1.0},{"t":23.83,"soi":2.0},{"t":23.92,"soi":-1.5},{"t":24.0,"soi":-4.0},{"t":24.08,"soi":-1.0},{"t":24.17,"soi":1.0},{"t":24.25,"soi":-2.5},{"t":24.33,"soi":-6.0},{"t":24.42,"soi":-3.5},{"t":24.5,"soi":-1.5},{"t":24.58,"soi":-4.5},{"t":24.67,"soi":-7.0},{"t":24.75,"soi":-4.0},{"t":24.83,"soi":-2.0},{"t":24.92,"soi":-5.0},{"t":25.0,"soi":-8.8},{"t":25.08,"soi":-3.0},{"t":25.17,"soi":0.0},{"t":25.25,"soi":3.0},{"t":25.33,"soi":5.5},{"t":25.42,"soi":3.0},{"t":25.5,"soi":1.5},{"t":25.58,"soi":4.5},{"t":25.67,"soi":7.0},{"t":25.75,"soi":4.5},{"t":25.83,"soi":2.0},{"t":25.92,"soi":4.0},{"t":26.0,"soi":5.5},{"t":26.08,"soi":2.5},{"t":26.17,"soi":3.0},{"t":26.25,"soi":7.0},{"t":26.33,"soi":10.6},{"t":26.42,"soi":6.5},{"t":26.5,"soi":5.0},{"t":26.58,"soi":7.5},{"t":26.67,"soi":9.0},{"t":26.75,"soi":6.0},{"t":26.83,"soi":4.5},{"t":26.92,"soi":7.0},{"t":27.0,"soi":8.0},{"t":27.08,"soi":4.5},{"t":27.17,"soi":2.0},{"t":27.25,"soi":6.0},{"t":27.33,"soi":5.0},{"t":27.42,"soi":1.0},{"t":27.5,"soi":-3.0},{"t":27.58,"soi":-0.5},{"t":27.67,"soi":1.0},{"t":27.75,"soi":-2.0},{"t":27.83,"soi":-5.0},{"t":27.92,"soi":-2.0},{"t":28.0,"soi":0.0},{"t":28.08,"soi":-2.5},{"t":28.17,"soi":-4.0},{"t":28.25,"soi":-7.0},{"t":28.33,"soi":-8.0},{"t":28.42,"soi":-10.5},{"t":28.5,"soi":-12.0},{"t":28.58,"soi":-15.0},{"t":28.67,"soi":-19.4},{"t":28.75,"soi":-12.0},{"t":28.83,"soi":-9.0},{"t":28.92,"soi":-11.0},{"t":29.0,"soi":-7.5},{"t":29.08,"soi":-4.0},{"t":29.17,"soi":-1.0},{"t":29.25,"soi":1.5},{"t":29.33,"soi":4.0},{"t":29.42,"soi":2.0},{"t":29.5,"soi":0.5},{"t":29.58,"soi":-2.0},{"t":29.67,"soi":1.5},{"t":29.75,"soi":-6.0},{"t":29.83,"soi":-14.1},{"t":29.92,"soi":-9.0},{"t":30.0,"soi":-6.0},{"t":30.08,"soi":-3.0},{"t":30.17,"soi":-1.0},{"t":30.25,"soi":2.0},{"t":30.33,"soi":5.0},{"t":30.42,"soi":3.0},{"t":30.5,"soi":2.0},{"t":30.58,"soi":9.5},{"t":30.67,"soi":4.0},{"t":30.75,"soi":7.0},{"t":30.83,"soi":6.5},{"t":30.92,"soi":2.5},{"t":31.0,"soi":-1.0},{"t":31.08,"soi":2.0},{"t":31.17,"soi":5.5},{"t":31.25,"soi":1.5},{"t":31.33,"soi":-1.5},{"t":31.42,"soi":1.0},{"t":31.5,"soi":3.5},{"t":31.58,"soi":0.0},{"t":31.67,"soi":-4.0},{"t":31.75,"soi":-6.5},{"t":31.83,"soi":0.5},{"t":31.92,"soi":-10.8},{"t":32.0,"soi":-4.0},{"t":32.08,"soi":-6.0},{"t":32.17,"soi":-1.0},{"t":32.25,"soi":-4.5},{"t":32.33,"soi":-7.5},{"t":32.42,"soi":-4.0},{"t":32.5,"soi":-2.0},{"t":32.58,"soi":-5.5},{"t":32.67,"soi":-8.0},{"t":32.75,"soi":-4.5},{"t":32.83,"soi":-1.5},{"t":32.92,"soi":-4.0},{"t":33.0,"soi":-5.5},{"t":33.08,"soi":-2.0},{"t":33.17,"soi":2.5},{"t":33.25,"soi":0.0},{"t":33.33,"soi":-2.5},{"t":33.42,"soi":1.0},{"t":33.5,"soi":3.0},{"t":33.58,"soi":-2.0},{"t":33.67,"soi":-6.0},{"t":33.75,"soi":-3.0},{"t":33.83,"soi":-1.0},{"t":33.96,"soi":-10.8},{"t":34.08,"soi":-2.0},{"t":34.17,"soi":-4.0},{"t":34.25,"soi":-6.5},{"t":34.33,"soi":-3.0},{"t":34.42,"soi":-1.5},{"t":34.5,"soi":-4.5},{"t":34.58,"soi":-7.0},{"t":34.67,"soi":-5.0},{"t":34.75,"soi":-2.0},{"t":34.83,"soi":-4.5},{"t":34.92,"soi":-6.0},{"t":35.0,"soi":-2.0},{"t":35.08,"soi":2.0},{"t":35.17,"soi":5.5},{"t":35.25,"soi":9.1},{"t":35.33,"soi":5.0},{"t":35.42,"soi":3.0},{"t":35.5,"soi":6.0},{"t":35.58,"soi":8.0},{"t":35.67,"soi":5.5},{"t":35.75,"soi":3.5},{"t":35.83,"soi":6.0},{"t":35.92,"soi":9.0},{"t":36.0,"soi":6.0},{"t":36.08,"soi":4.0},{"t":36.17,"soi":7.0},{"t":36.24,"soi":9.7},{"t":36.33,"soi":5.0},{"t":36.42,"soi":2.0},{"t":36.5,"soi":4.5},{"t":36.58,"soi":6.0},{"t":36.67,"soi":3.0},{"t":36.75,"soi":1.0},{"t":36.83,"soi":4.0},{"t":36.92,"soi":6.5},{"t":37.0,"soi":4.5},{"t":37.08,"soi":3.0},{"t":37.17,"soi":8.0},{"t":37.26,"soi":16.3},{"t":37.33,"soi":8.0},{"t":37.42,"soi":5.0},{"t":37.5,"soi":2.0},{"t":37.58,"soi":-1.0},{"t":37.67,"soi":1.0},{"t":37.75,"soi":2.0},{"t":37.83,"soi":-2.5},{"t":37.92,"soi":-5.0},{"t":38.0,"soi":-2.0},{"t":38.08,"soi":-1.0},{"t":38.17,"soi":-5.0},{"t":38.25,"soi":-8.0},{"t":38.33,"soi":-6.0},{"t":38.42,"soi":-4.0},{"t":38.5,"soi":-9.0},{"t":38.58,"soi":-12.0},{"t":38.67,"soi":-15.0},{"t":38.75,"soi":-19.1},{"t":38.83,"soi":-11.0},{"t":38.92,"soi":-6.0},{"t":39.0,"soi":-8.0},{"t":39.08,"soi":-2.0},{"t":39.17,"soi":-3.5},{"t":39.25,"soi":3.0},{"t":39.33,"soi":0.5},{"t":39.42,"soi":-2.5},{"t":39.5,"soi":2.0},{"t":39.58,"soi":5.0},{"t":39.67,"soi":2.0},{"t":39.75,"soi":0.5},{"t":39.83,"soi":3.0},{"t":39.92,"soi":5.5},{"t":40.0,"soi":1.5},{"t":40.08,"soi":-2.0},{"t":40.17,"soi":0.5},{"t":40.25,"soi":2.5},{"t":40.33,"soi":-1.5},{"t":40.42,"soi":-5.0},{"t":40.5,"soi":-2.0},{"t":40.58,"soi":0.0},{"t":40.67,"soi":-3.0},{"t":40.75,"soi":-6.5},{"t":40.83,"soi":-4.0},{"t":40.95,"soi":-13.2},{"t":41.0,"soi":-9.0},{"t":41.08,"soi":-5.0},{"t":41.17,"soi":-3.0},{"t":41.25,"soi":-8.0},{"t":41.33,"soi":-2.0},{"t":41.42,"soi":2.5},{"t":41.5,"soi":-0.5},{"t":41.58,"soi":-2.5},{"t":41.67,"soi":1.0},{"t":41.75,"soi":3.0},{"t":41.83,"soi":0.0},{"t":41.92,"soi":-3.0},{"t":42.0,"soi":1.0},{"t":42.08,"soi":4.5},{"t":42.17,"soi":2.0},{"t":42.25,"soi":-1.0},{"t":42.33,"soi":2.5},{"t":42.42,"soi":6.0},{"t":42.5,"soi":3.0},{"t":42.58,"soi":0.5},{"t":42.67,"soi":3.5},{"t":42.75,"soi":5.0},{"t":42.83,"soi":1.0},{"t":42.92,"soi":-2.0},{"t":43.0,"soi":0.5},{"t":43.09,"soi":-9.9},{"t":43.17,"soi":-2.0},{"t":43.25,"soi":3.0},{"t":43.33,"soi":-1.0},{"t":43.42,"soi":-4.0},{"t":43.5,"soi":-6.5},{"t":43.6,"soi":-10.3},{"t":43.67,"soi":-6.0},{"t":43.75,"soi":-3.0},{"t":43.83,"soi":-5.0},{"t":43.92,"soi":-7.0},{"t":44.0,"soi":-4.0},{"t":44.08,"soi":-1.5},{"t":44.17,"soi":-4.0},{"t":44.25,"soi":-6.0},{"t":44.33,"soi":-2.5},{"t":44.42,"soi":0.0},{"t":44.5,"soi":-3.0},{"t":44.58,"soi":-5.5},{"t":44.67,"soi":-2.0},{"t":44.75,"soi":1.0},{"t":44.83,"soi":-1.5},{"t":44.92,"soi":-4.0},{"t":45.0,"soi":0.5},{"t":45.08,"soi":4.5},{"t":45.17,"soi":2.5},{"t":45.25,"soi":0.0},{"t":45.33,"soi":3.5},{"t":45.42,"soi":6.0},{"t":45.5,"soi":2.5},{"t":45.58,"soi":-0.5},{"t":45.67,"soi":2.5},{"t":45.75,"soi":5.0},{"t":45.83,"soi":2.0},{"t":45.92,"soi":-1.5},{"t":46.0,"soi":2.5},{"t":46.08,"soi":6.5},{"t":46.17,"soi":3.0},{"t":46.25,"soi":0.0},{"t":46.33,"soi":4.0},{"t":46.42,"soi":7.0},{"t":46.5,"soi":3.5},{"t":46.58,"soi":-0.5},{"t":46.67,"soi":2.5},{"t":46.75,"soi":5.5},{"t":46.83,"soi":2.0},{"t":46.92,"soi":0.0},{"t":47.0,"soi":3.5},{"t":47.08,"soi":6.0},{"t":47.15,"soi":3.0},{"t":47.23,"soi":8.3},{"t":47.33,"soi":3.0},{"t":47.42,"soi":-0.5},{"t":47.5,"soi":1.5},{"t":47.58,"soi":4.5},{"t":47.67,"soi":0.5},{"t":47.75,"soi":-3.5},{"t":47.83,"soi":-1.0},{"t":47.92,"soi":1.5},{"t":48.0,"soi":-2.5},{"t":48.08,"soi":-6.0},{"t":48.17,"soi":-3.5},{"t":48.25,"soi":-1.5},{"t":48.33,"soi":-5.0},{"t":48.42,"soi":-8.0},{"t":48.5,"soi":-5.5},{"t":48.58,"soi":-3.0},{"t":48.65,"soi":-9.0},{"t":48.71,"soi":-14.0},{"t":48.77,"soi":-10.0},{"t":48.83,"soi":-7.0},{"t":48.92,"soi":-5.0},{"t":49.0,"soi":-3.0},{"t":49.08,"soi":0.0},{"t":49.17,"soi":3.0},{"t":49.25,"soi":0.5},{"t":49.33,"soi":-1.0},{"t":49.42,"soi":2.0},{"t":49.5,"soi":4.5},{"t":49.58,"soi":1.5},{"t":49.67,"soi":0.0},{"t":49.75,"soi":2.5},{"t":49.83,"soi":3.5},{"t":49.92,"soi":-2.0},{"t":50.03,"soi":-12.2},{"t":50.1,"soi":-4.0},{"t":50.17,"soi":1.0},{"t":50.25,"soi":4.0},{"t":50.33,"soi":2.0},{"t":50.41,"soi":9.4},{"t":50.5,"soi":5.0},{"t":50.58,"soi":2.0},{"t":50.67,"soi":4.5},{"t":50.75,"soi":6.5},{"t":50.83,"soi":3.5},{"t":50.92,"soi":1.0},{"t":51.0,"soi":3.0},{"t":51.08,"soi":5.5},{"t":51.17,"soi":2.0},{"t":51.25,"soi":-1.0},{"t":51.33,"soi":2.5},{"t":51.42,"soi":5.0},{"t":51.5,"soi":1.5},{"t":51.58,"soi":-1.5},{"t":51.67,"soi":1.0},{"t":51.75,"soi":4.0},{"t":51.83,"soi":2.0},{"t":51.92,"soi":0.5},{"t":52.0,"soi":3.5},{"t":52.08,"soi":6.0},{"t":52.18,"soi":11.7},{"t":52.25,"soi":5.5},{"t":52.33,"soi":2.0},{"t":52.42,"soi":4.5},{"t":52.5,"soi":6.5},{"t":52.58,"soi":2.5},{"t":52.67,"soi":-1.0},{"t":52.75,"soi":1.5},{"t":52.83,"soi":4.5},{"t":52.92,"soi":0.5},{"t":53.0,"soi":-3.5},{"t":53.08,"soi":-1.0},{"t":53.17,"soi":2.5},{"t":53.25,"soi":-1.5},{"t":53.33,"soi":-5.0},{"t":53.42,"soi":-2.0},{"t":53.5,"soi":0.5},{"t":53.58,"soi":-3.0},{"t":53.67,"soi":-6.5},{"t":53.75,"soi":-3.5},{"t":53.83,"soi":-1.0},{"t":53.92,"soi":-3.5},{"t":54.0,"soi":-6.0},{"t":54.08,"soi":-3.0},{"t":54.17,"soi":0.0},{"t":54.25,"soi":-3.5},{"t":54.33,"soi":-7.5},{"t":54.42,"soi":-4.0},{"t":54.5,"soi":-1.5},{"t":54.58,"soi":-4.5},{"t":54.67,"soi":-8.0},{"t":54.75,"soi":-5.0},{"t":54.83,"soi":-3.0},{"t":54.92,"soi":-4.5},{"t":55.0,"soi":-5.5}
 ]
},
"encoding": {
 "x": {"field": "t", "type": "quantitative", "scale": {"domain": [0, 55], "nice": false, "zero": false},
  "axis": {"values": [0,5,10,15,20,25,30,35,40,45,50,55], "labelFontSize": 20, "labelPadding": 2, "labelFlush": false, "title": "Years into Simulation", "titleFontSize": 24, "titlePadding": 2}}
},
"layer": [
 {
  "encoding": {
   "y": {"field": "oni", "type": "quantitative", "scale": {"domain": [-3.21, 3.21], "nice": false, "zero": false},
    "axis": {"orient": "left", "values": [-3,-2,-1,0,1,2,3], "labelFontSize": 20, "labelPadding": 4, "labelExpr": "replace(datum.label, '-', '−')", "title": "ONI", "titleFontSize": 22, "titlePadding": 8}}
  },
  "layer": [
   {"data": {"name": "warm"}, "mark": {"type": "area", "color": "#ffcccc", "interpolate": "monotone"}, "encoding": {"y2": {"datum": 0.8}, "detail": {"field": "ep", "type": "nominal"}}},
   {"data": {"name": "cold"}, "mark": {"type": "area", "color": "#ccccff", "interpolate": "monotone"}, "encoding": {"y2": {"datum": -0.8}, "detail": {"field": "ep", "type": "nominal"}}},
   {"data": {"name": "oni"}, "mark": {"type": "line", "interpolate": "monotone", "strokeWidth": 2.2},
    "encoding": {
     "color": {"datum": "Hybrid Model ONI 3 Month Average", "type": "nominal", "scale": {"domain": ["Hybrid Model ONI 3 Month Average", "Hybrid SOI 1 Month Average", "Hybrid SOI 5 Month Average"], "range": ["black", "rgba(77,175,74,0.85)", "#4daf4a"]}, "legend": {"title": null}},
     "strokeDash": {"datum": "Hybrid Model ONI 3 Month Average", "type": "nominal", "scale": {"domain": ["Hybrid Model ONI 3 Month Average", "Hybrid SOI 1 Month Average", "Hybrid SOI 5 Month Average"], "range": [[1,0],[1,0],[7,3]]}, "legend": {"title": null}}
    }}
  ]
 },
 {
  "encoding": {
   "y": {"field": "soi", "type": "quantitative", "scale": {"domain": [-20, 20], "nice": false, "zero": false},
    "axis": {"orient": "right", "values": [-20,-15,-10,-5,0,5,10,15,20], "labelFontSize": 15, "labelPadding": 3, "labelExpr": "replace(datum.label, '-', '−')", "title": "SOI", "titleFontSize": 20, "titleAngle": 270, "titlePadding": 25}}
  },
  "layer": [
   {"data": {"name": "soi1"}, "mark": {"type": "line", "strokeWidth": 1.3},
    "encoding": {
     "color": {"datum": "Hybrid SOI 1 Month Average", "type": "nominal", "scale": {"domain": ["Hybrid Model ONI 3 Month Average", "Hybrid SOI 1 Month Average", "Hybrid SOI 5 Month Average"], "range": ["black", "rgba(77,175,74,0.85)", "#4daf4a"]}, "legend": {"title": null}},
     "strokeDash": {"datum": "Hybrid SOI 1 Month Average", "type": "nominal", "scale": {"domain": ["Hybrid Model ONI 3 Month Average", "Hybrid SOI 1 Month Average", "Hybrid SOI 5 Month Average"], "range": [[1,0],[1,0],[7,3]]}, "legend": {"title": null}}
    }},
   {"data": {"name": "soi5"}, "mark": {"type": "line", "interpolate": "monotone", "strokeWidth": 2.6},
    "encoding": {
     "color": {"datum": "Hybrid SOI 5 Month Average", "type": "nominal", "scale": {"domain": ["Hybrid Model ONI 3 Month Average", "Hybrid SOI 1 Month Average", "Hybrid SOI 5 Month Average"], "range": ["black", "rgba(77,175,74,0.85)", "#4daf4a"]}, "legend": {"title": null}},
     "strokeDash": {"datum": "Hybrid SOI 5 Month Average", "type": "nominal", "scale": {"domain": ["Hybrid Model ONI 3 Month Average", "Hybrid SOI 1 Month Average", "Hybrid SOI 5 Month Average"], "range": [[1,0],[1,0],[7,3]]}, "legend": {"title": null}}
    }}
  ]
 }
],
"resolve": {"scale": {"y": "independent"}}
}
